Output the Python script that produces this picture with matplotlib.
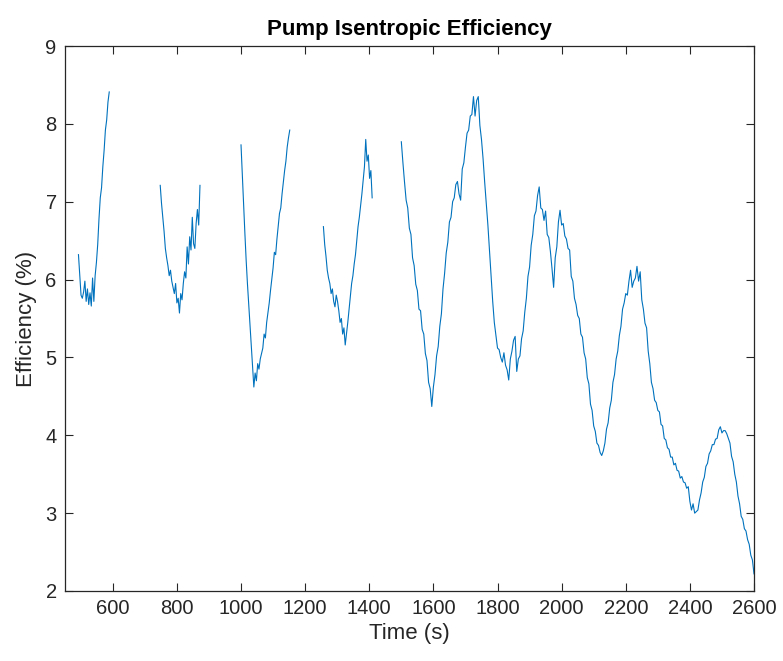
import matplotlib
matplotlib.use("Agg")
import matplotlib.pyplot as plt
import numpy as np

plt.rcParams["font.family"] = ["Liberation Sans", "DejaVu Sans"]

# Pump isentropic efficiency (%) logged in separate runs; each run has its own
# start time (s) and sampling step (s).
RUN1_START, RUN1_STEP = 493, 4
RUN1_EFF = [6.32, 6.05, 5.80, 5.76, 5.84, 5.98, 5.72, 5.88, 5.68, 5.83,
            5.66, 6.02, 5.72, 6.05, 6.22, 6.45, 6.78, 7.05, 7.18, 7.45,
            7.66, 7.92, 8.05, 8.28, 8.41]

RUN2_START, RUN2_STEP = 748, 4
RUN2_EFF = [7.21, 6.98, 6.80, 6.62, 6.40, 6.28, 6.18, 6.05, 6.12, 5.98,
            5.90, 5.82, 5.95, 5.70, 5.76, 5.57, 5.82, 5.74, 5.95, 6.10,
            6.02, 6.42, 6.20, 6.55, 6.38, 6.80, 6.46, 6.40, 6.72, 6.90,
            6.70, 7.21]

RUN3_START, RUN3_STEP = 1000, 4
RUN3_EFF = [7.73, 7.35, 6.95, 6.60, 6.25, 5.95, 5.68, 5.42, 5.15, 4.85,
            4.62, 4.80, 4.70, 4.92, 4.85, 4.98, 5.05, 5.12, 5.30, 5.25,
            5.45, 5.58, 5.70, 5.86, 6.00, 6.15, 6.35, 6.32, 6.52, 6.68,
            6.85, 6.92, 7.10, 7.25, 7.40, 7.52, 7.70, 7.82, 7.92]

RUN4_START, RUN4_STEP = 1257, 4
RUN4_EFF = [6.68, 6.45, 6.30, 6.12, 6.02, 5.95, 5.82, 5.88, 5.72, 5.65,
            5.80, 5.72, 5.60, 5.45, 5.50, 5.30, 5.38, 5.16, 5.30, 5.45,
            5.62, 5.78, 5.95, 6.05, 6.20, 6.32, 6.50, 6.68, 6.80, 6.95,
            7.10, 7.28, 7.45, 7.80, 7.52, 7.60, 7.30, 7.40, 7.05]

RUN5_START, RUN5_STEP = 1500, 5
RUN5_EFF = [7.77, 7.50, 7.25, 7.02, 6.92, 6.66, 6.58, 6.28, 6.18, 5.94,
            5.86, 5.62, 5.60, 5.36, 5.30, 5.05, 4.96, 4.68, 4.60, 4.37,
            4.62, 4.78, 5.02, 5.14, 5.40, 5.56, 5.88, 6.08, 6.34, 6.48,
            6.74, 6.80, 7.00, 7.05, 7.22, 7.26, 7.10, 7.02, 7.42, 7.50,
            7.70, 7.88, 7.92, 8.10, 8.12, 8.35, 8.10, 8.30, 8.35, 7.98,
            7.80, 7.55, 7.25, 6.98, 6.70, 6.38, 6.05, 5.72, 5.45, 5.28,
            5.12, 5.10, 5.00, 4.94, 5.06, 4.90, 4.84, 4.71, 4.98, 5.08,
            5.22, 5.27, 4.82, 4.98, 5.02, 5.24, 5.34, 5.58, 5.76, 6.04,
            6.16, 6.44, 6.58, 6.82, 6.88, 7.08, 7.19, 6.92, 6.90, 6.76,
            6.88, 6.58, 6.54, 6.36, 6.14, 5.90, 6.28, 6.42, 6.74, 6.89,
            6.70, 6.72, 6.56, 6.52, 6.40, 6.38, 6.04, 5.98, 5.76, 5.68,
            5.54, 5.50, 5.30, 5.26, 5.06, 4.98, 4.74, 4.66, 4.40, 4.32,
            4.12, 4.05, 3.90, 3.87, 3.78, 3.74, 3.80, 3.90, 4.08, 4.16,
            4.35, 4.45, 4.68, 4.78, 4.98, 5.08, 5.28, 5.40, 5.62, 5.70,
            5.82, 5.80, 5.98, 6.12, 5.90, 5.98, 6.02, 6.17, 5.98, 6.10,
            5.74, 5.62, 5.44, 5.38, 5.08, 4.92, 4.68, 4.60, 4.45, 4.42,
            4.32, 4.30, 4.14, 4.12, 3.96, 3.94, 3.84, 3.82, 3.72, 3.72,
            3.62, 3.64, 3.55, 3.54, 3.45, 3.47, 3.40, 3.39, 3.32, 3.34,
            3.15, 3.04, 3.12, 3.00, 3.02, 3.04, 3.17, 3.26, 3.40, 3.46,
            3.60, 3.64, 3.76, 3.80, 3.88, 3.88, 3.95, 3.96, 4.07, 4.11,
            4.03, 4.06, 4.06, 4.02, 3.96, 3.90, 3.73, 3.66, 3.50, 3.40,
            3.22, 3.12, 2.96, 2.92, 2.80, 2.77, 2.66, 2.60, 2.46, 2.40,
            2.22]

RUNS = [
    (RUN1_START, RUN1_STEP, RUN1_EFF),
    (RUN2_START, RUN2_STEP, RUN2_EFF),
    (RUN3_START, RUN3_STEP, RUN3_EFF),
    (RUN4_START, RUN4_STEP, RUN4_EFF),
    (RUN5_START, RUN5_STEP, RUN5_EFF),
]

X_TICKS = [600, 800, 1000, 1200, 1400, 1600, 1800, 2000, 2200, 2400, 2600]
Y_TICKS = [2, 3, 4, 5, 6, 7, 8, 9]

LINE_BLUE = "#0072BD"
AX_GREY = "#262626"

# join runs into one series with NaN gaps between them
t_all, e_all = [], []
for start, step, eff in RUNS:
    t = start + step * np.arange(len(eff))
    t_all.extend(t.tolist() + [np.nan])
    e_all.extend(list(eff) + [np.nan])

fig = plt.figure(figsize=(7.83, 6.61), dpi=100)
fig.patch.set_facecolor("white")
ax = fig.add_axes([65 / 783, 1 - 591 / 661, 689 / 783, 545 / 661])

ax.plot(t_all, e_all, color=LINE_BLUE, lw=0.8)

ax.set_xlim(451, 2600)
ax.set_ylim(2, 9)
ax.set_xticks(X_TICKS)
ax.set_yticks(Y_TICKS)
ax.tick_params(direction="in", length=6, width=0.8, colors=AX_GREY,
               labelsize=14.5, top=True, right=True, pad=6)
for sp in ax.spines.values():
    sp.set_color(AX_GREY)
    sp.set_linewidth(0.9)

ax.set_xlabel("Time (s)", fontsize=16, color=AX_GREY, labelpad=3)
ax.set_ylabel("Efficiency (%)", fontsize=16, color=AX_GREY, labelpad=6)
ax.set_title("Pump Isentropic Efficiency", fontsize=16, fontweight="bold",
             color="black", pad=8)

fig.savefig("out.png", dpi=100, facecolor="white")
